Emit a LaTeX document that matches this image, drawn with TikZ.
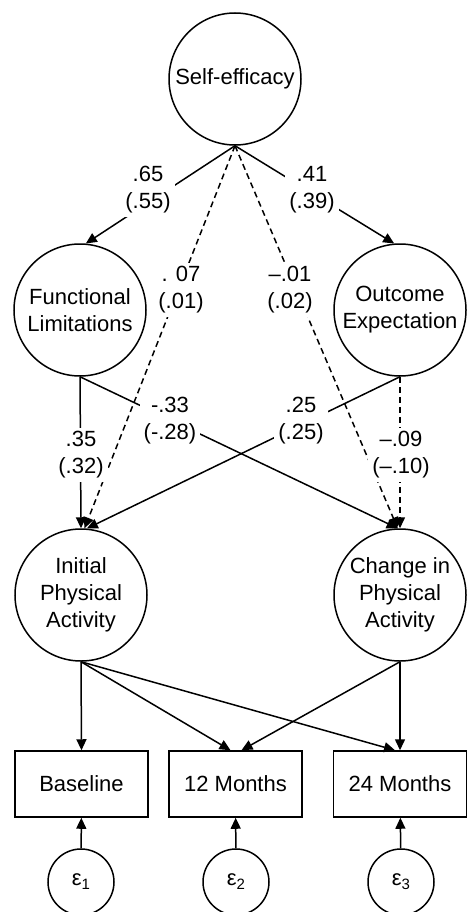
\documentclass[tikz,border=0pt]{standalone}
\usepackage{fontspec}
\setmainfont{Liberation Sans}
\usetikzlibrary{arrows.meta,calc}
\begin{document}
\begin{tikzpicture}[x=1pt,y=-1pt,
  every node/.style={font=\fontsize{22}{27}\selectfont},
  latent/.style={circle,draw,line width=1.5pt,minimum size=132pt,inner sep=0pt,align=center},
  obs/.style={rectangle,draw,line width=1.5pt,minimum width=133pt,minimum height=66pt,inner sep=0pt},
  err/.style={circle,draw,line width=1.5pt,minimum size=66pt,inner sep=0pt},
  path/.style={line width=1.5pt,-{Triangle[length=11pt,width=10pt]}},
  dpath/.style={path,dash pattern=on 6pt off 4pt},
  lab/.style={fill=white,inner xsep=4pt,inner ysep=4pt,align=center}]
\useasboundingbox (0,0) rectangle (466,912);
\node[latent] (SE) at (235,79) {Self-efficacy};
\node[latent] (FL) at (80,310) {Functional\\Limitations};
\node[latent] (OE) at (400,310) {Outcome\\Expectation};
\node[latent] (IPA) at (81,595) {Initial\\Physical\\Activity};
\node[latent] (CPA) at (400,595) {Change in\\Physical\\Activity};
\node[obs] (B) at (81.5,784) {Baseline};
\node[obs] (M12) at (235.5,784) {12 Months};
\node[obs] (M24) at (400,784) {24 Months};
\node[err] (E1) at (81,882) {ε\raisebox{-4pt}{\fontsize{15}{15}\selectfont 1}};
\node[err] (E2) at (236,882) {ε\raisebox{-4pt}{\fontsize{15}{15}\selectfont 2}};
\node[err] (E3) at (401,882) {ε\raisebox{-4pt}{\fontsize{15}{15}\selectfont 3}};
% structural paths
\draw[path] (SE.south) -- (FL.85);
\draw[path] (SE.south) -- (OE.95);
\draw[dpath] (SE.south) -- (IPA.87);
\draw[dpath] (SE.south) -- (CPA.92);
\draw[path] (FL.south) -- (IPA.north);
\draw[path] (FL.south) -- (CPA.92);
\draw[path] (OE.south) -- (IPA.85);
\draw[dpath] (OE.south) -- (CPA.north);
% labels
\node[lab] (l1) at (148,190) {.65\\(.55)};
\node[lab] (l2) at (312,190) {.41\\(.39)};
\node[lab] (l3) at (181,290) {. 07\\(.01)};
\node[lab] (l4) at (290,290) {–.01\\(.02)};
\node[lab] (l5) at (81,455) {.35\\(.32)};
\node[lab] (l6) at (170,421) {-.33\\(-.28)};
\node[lab] (l7) at (301,421) {.25\\(.25)};
\node[lab] (l8) at (401,455) {–.09\\(–.10)};
% measurement paths
\draw[path] (IPA.south) -- (B.north);
\draw[path] (IPA.south) -- ($(M12.north)+(-5,0)$);
\draw[path] (IPA.south) -- ($(M24.north)+(-5,0)$);
\draw[path] (CPA.south) -- ($(M12.north)+(6,0)$);
\draw[path] (CPA.south) -- (M24.north);
\draw[path] (E1) -- (B);
\draw[path] (E2) -- (M12);
\draw[path] (E3) -- (M24);
\end{tikzpicture}
\end{document}
